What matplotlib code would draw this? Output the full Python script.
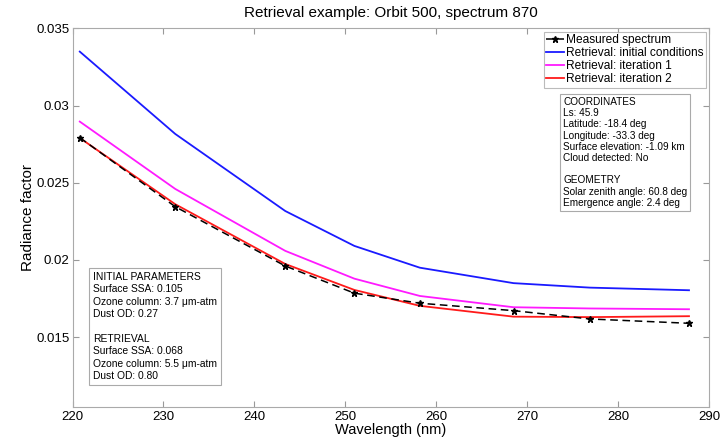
import matplotlib
matplotlib.use("Agg")
import matplotlib.pyplot as plt

plt.rcParams['font.family'] = ['Liberation Sans', 'DejaVu Sans']

wavelength = [220.8, 231.3, 243.4, 251.0, 258.2, 268.5, 276.9, 287.8]
measured = [0.02792, 0.02345, 0.01961, 0.01785, 0.01720, 0.01672, 0.01618, 0.01590]
initial = [0.03349, 0.02816, 0.02317, 0.02091, 0.01950, 0.01850, 0.01821, 0.01804]
iter1 = [0.02896, 0.02460, 0.02059, 0.01879, 0.01767, 0.01694, 0.01686, 0.01681]
iter2 = [0.02790, 0.02361, 0.01974, 0.01806, 0.01703, 0.01633, 0.01630, 0.01636]

xticks = [220, 230, 240, 250, 260, 270, 280, 290]
yticks = [0.015, 0.02, 0.025, 0.03, 0.035]
ytick_labels = ['0.015', '0.02', '0.025', '0.03', '0.035']

coords_text = ("COORDINATES\nLs: 45.9\nLatitude: -18.4 deg\nLongitude: -33.3 deg\n"
               "Surface elevation: -1.09 km\nCloud detected: No\n\nGEOMETRY\n"
               "Solar zenith angle: 60.8 deg\nEmergence angle: 2.4 deg")
params_text = ("INITIAL PARAMETERS\nSurface SSA: 0.105\nOzone column: 3.7 μm-atm\n"
               "Dust OD: 0.27\n\nRETRIEVAL\nSurface SSA: 0.068\n"
               "Ozone column: 5.5 μm-atm\nDust OD: 0.80")

fig = plt.figure(figsize=(7.24, 4.37), dpi=100)
ax = fig.add_axes([72.5/724, 1 - 406.7/437, (709 - 72.5)/724, (406.7 - 28.3)/437])

ax.plot(wavelength, measured, color='black', linestyle='--', marker='*',
        markersize=5, linewidth=1.1, label='Measured spectrum', dashes=(5, 3), zorder=5)
ax.plot(wavelength, initial, color='#1a1aff', linewidth=1.3, label='Retrieval: initial conditions')
ax.plot(wavelength, iter1, color='#ff1aff', linewidth=1.3, label='Retrieval: iteration 1')
ax.plot(wavelength, iter2, color='#ff1a1a', linewidth=1.3, label='Retrieval: iteration 2')

ax.set_xlim(220, 290)
ax.set_ylim(0.0105, 0.035)
ax.set_xticks(xticks)
ax.set_yticks(yticks)
ax.set_yticklabels(ytick_labels)
ax.tick_params(direction='in', top=True, right=True, length=4, width=0.8,
               colors='#999999', labelcolor='black', labelsize=9.5)
ax.tick_params(axis='x', pad=3)
ax.tick_params(axis='y', pad=2)
for s in ax.spines.values():
    s.set_color('#aaaaaa')
    s.set_linewidth(0.8)

ax.set_xlabel('Wavelength (nm)', fontsize=10.5, labelpad=0)
ax.set_ylabel('Radiance factor', fontsize=11, labelpad=1)
ax.set_title('Retrieval example: Orbit 500, spectrum 870', fontsize=11, pad=8)

leg = ax.legend(loc='upper right', bbox_to_anchor=(706/724, 1 - 32/437),
                bbox_transform=fig.transFigure, fontsize=8.6, frameon=True,
                fancybox=False, handlelength=1.5, handletextpad=0.15,
                borderpad=0.2, labelspacing=0.08, borderaxespad=0)
leg.get_frame().set_edgecolor('#aaaaaa')
leg.get_frame().set_linewidth(0.8)

ax.text(563/724, 1 - 97/437, coords_text, transform=fig.transFigure, fontsize=7.2,
        va='top', ha='left', linespacing=1.15,
        bbox=dict(boxstyle='square,pad=0.3', facecolor='white', edgecolor='#aaaaaa', linewidth=0.8))
ax.text(93/724, 1 - 272/437, params_text, transform=fig.transFigure, fontsize=7.4,
        va='top', ha='left', linespacing=1.3,
        bbox=dict(boxstyle='square,pad=0.35', facecolor='white', edgecolor='#aaaaaa', linewidth=0.8))

fig.savefig('out.png', dpi=100)
